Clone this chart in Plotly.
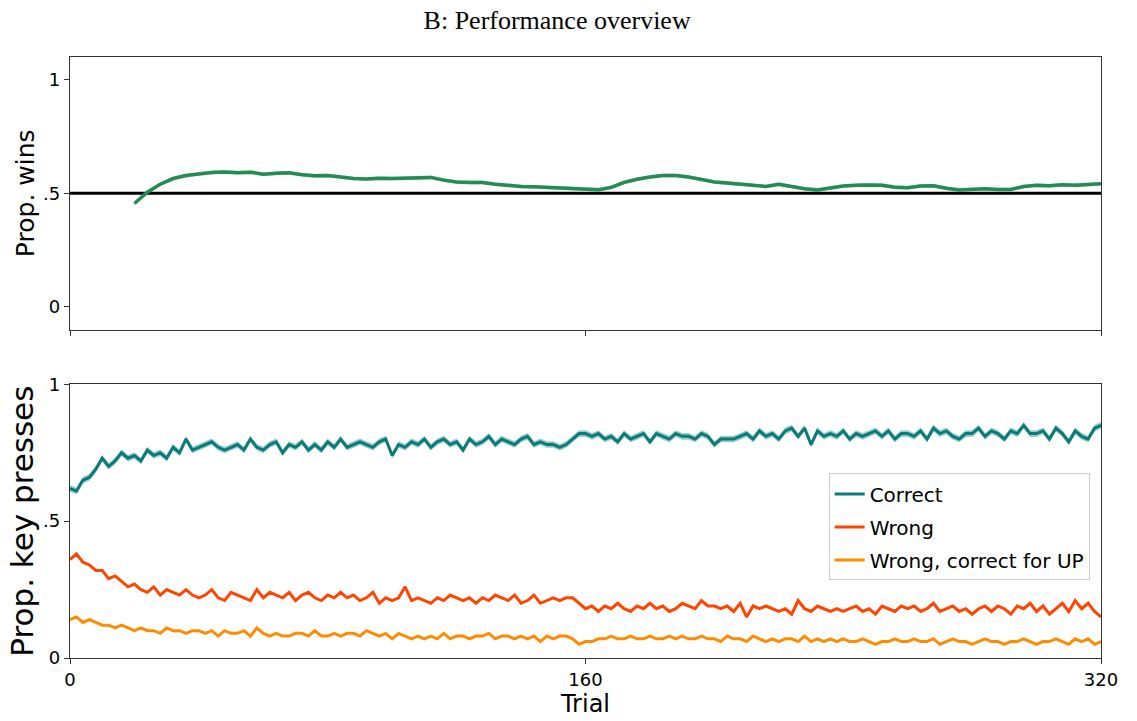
import numpy as np
import plotly.graph_objects as go
from plotly.subplots import make_subplots

# ---------------- data ----------------
win_trials = list(range(20, 321, 4))
win_prop = [0.455, 0.505, 0.540, 0.565, 0.578, 0.586, 0.592, 0.594, 0.591, 0.593,
            0.584, 0.588, 0.590, 0.582, 0.577, 0.578, 0.572, 0.565, 0.563, 0.566,
            0.565, 0.567, 0.566, 0.570, 0.558, 0.550, 0.548, 0.548, 0.540, 0.535,
            0.530, 0.529, 0.527, 0.523, 0.520, 0.518, 0.516, 0.526, 0.548, 0.562,
            0.572, 0.578, 0.578, 0.572, 0.562, 0.550, 0.545, 0.540, 0.538, 0.530,
            0.540, 0.530, 0.520, 0.515, 0.525, 0.532, 0.535, 0.537, 0.535, 0.527,
            0.525, 0.532, 0.533, 0.522, 0.515, 0.518, 0.520, 0.517, 0.517, 0.530,
            0.535, 0.533, 0.538, 0.536, 0.540, 0.542]
win_se = 0.008
chance_level = 0.5

trials = list(range(0, 321, 2))
correct = [0.62, 0.61, 0.65, 0.66, 0.69, 0.73, 0.70, 0.72, 0.75, 0.73,
           0.74, 0.72, 0.76, 0.74, 0.75, 0.73, 0.77, 0.75, 0.80, 0.76,
           0.77, 0.78, 0.79, 0.77, 0.76, 0.77, 0.78, 0.76, 0.80, 0.77,
           0.76, 0.78, 0.79, 0.75, 0.78, 0.77, 0.79, 0.76, 0.78, 0.76,
           0.79, 0.77, 0.80, 0.77, 0.78, 0.79, 0.78, 0.77, 0.79, 0.80,
           0.74, 0.78, 0.77, 0.79, 0.78, 0.80, 0.77, 0.79, 0.80, 0.78,
           0.79, 0.76, 0.80, 0.78, 0.79, 0.81, 0.78, 0.80, 0.79, 0.78,
           0.80, 0.81, 0.78, 0.79, 0.78, 0.78, 0.77, 0.78, 0.80, 0.82,
           0.82, 0.81, 0.82, 0.80, 0.81, 0.79, 0.82, 0.80, 0.81, 0.82,
           0.79, 0.82, 0.81, 0.80, 0.82, 0.81, 0.81, 0.80, 0.82, 0.81,
           0.78, 0.80, 0.80, 0.80, 0.81, 0.82, 0.80, 0.83, 0.81, 0.82,
           0.80, 0.83, 0.84, 0.81, 0.84, 0.78, 0.83, 0.81, 0.82, 0.81,
           0.83, 0.80, 0.82, 0.81, 0.82, 0.83, 0.81, 0.83, 0.80, 0.82,
           0.82, 0.81, 0.83, 0.80, 0.84, 0.82, 0.83, 0.81, 0.80, 0.82,
           0.82, 0.84, 0.81, 0.83, 0.82, 0.80, 0.83, 0.82, 0.85, 0.82,
           0.82, 0.83, 0.80, 0.84, 0.82, 0.79, 0.83, 0.81, 0.80, 0.84,
           0.85]
wrong = [0.36, 0.38, 0.35, 0.34, 0.32, 0.32, 0.29, 0.30, 0.28, 0.26,
         0.27, 0.25, 0.24, 0.26, 0.23, 0.25, 0.24, 0.23, 0.25, 0.23,
         0.22, 0.23, 0.25, 0.22, 0.21, 0.24, 0.23, 0.22, 0.21, 0.25,
         0.22, 0.24, 0.23, 0.22, 0.24, 0.21, 0.23, 0.24, 0.22, 0.21,
         0.23, 0.22, 0.24, 0.22, 0.23, 0.21, 0.22, 0.24, 0.20, 0.22,
         0.21, 0.22, 0.26, 0.21, 0.22, 0.21, 0.20, 0.22, 0.21, 0.23,
         0.22, 0.21, 0.22, 0.20, 0.22, 0.21, 0.23, 0.22, 0.21, 0.23,
         0.20, 0.21, 0.23, 0.20, 0.21, 0.22, 0.21, 0.22, 0.22, 0.20,
         0.18, 0.19, 0.17, 0.19, 0.18, 0.20, 0.18, 0.17, 0.19, 0.18,
         0.20, 0.18, 0.19, 0.17, 0.18, 0.20, 0.19, 0.18, 0.21, 0.19,
         0.19, 0.18, 0.19, 0.17, 0.20, 0.15, 0.19, 0.18, 0.19, 0.18,
         0.17, 0.18, 0.16, 0.21, 0.18, 0.17, 0.19, 0.18, 0.17, 0.18,
         0.17, 0.18, 0.19, 0.17, 0.18, 0.16, 0.19, 0.18, 0.17, 0.19,
         0.18, 0.19, 0.17, 0.18, 0.20, 0.17, 0.18, 0.19, 0.17, 0.18,
         0.16, 0.18, 0.19, 0.17, 0.19, 0.18, 0.16, 0.19, 0.18, 0.20,
         0.17, 0.19, 0.16, 0.18, 0.20, 0.17, 0.21, 0.18, 0.20, 0.17,
         0.15]
wrong_up = [0.14, 0.15, 0.13, 0.14, 0.13, 0.12, 0.12, 0.11, 0.12, 0.11,
            0.10, 0.11, 0.10, 0.10, 0.09, 0.11, 0.10, 0.10, 0.09, 0.10,
            0.10, 0.09, 0.10, 0.08, 0.10, 0.09, 0.09, 0.10, 0.08, 0.11,
            0.09, 0.08, 0.09, 0.08, 0.08, 0.09, 0.09, 0.08, 0.10, 0.08,
            0.08, 0.09, 0.08, 0.09, 0.09, 0.08, 0.10, 0.09, 0.08, 0.09,
            0.07, 0.09, 0.08, 0.07, 0.08, 0.07, 0.08, 0.07, 0.09, 0.07,
            0.08, 0.08, 0.07, 0.08, 0.08, 0.09, 0.07, 0.08, 0.08, 0.07,
            0.08, 0.07, 0.08, 0.06, 0.08, 0.07, 0.08, 0.08, 0.07, 0.05,
            0.06, 0.06, 0.07, 0.07, 0.08, 0.07, 0.07, 0.08, 0.07, 0.07,
            0.08, 0.07, 0.07, 0.08, 0.07, 0.08, 0.07, 0.07, 0.08, 0.07,
            0.07, 0.06, 0.08, 0.07, 0.07, 0.06, 0.08, 0.07, 0.06, 0.07,
            0.06, 0.07, 0.07, 0.06, 0.08, 0.06, 0.07, 0.06, 0.07, 0.06,
            0.07, 0.06, 0.06, 0.07, 0.06, 0.05, 0.06, 0.06, 0.07, 0.06,
            0.06, 0.07, 0.06, 0.06, 0.07, 0.05, 0.06, 0.07, 0.06, 0.06,
            0.05, 0.06, 0.07, 0.06, 0.06, 0.05, 0.06, 0.06, 0.07, 0.06,
            0.05, 0.06, 0.06, 0.07, 0.06, 0.05, 0.07, 0.06, 0.07, 0.05,
            0.06]
correct_se = 0.012

x_ticks = [0, 160, 320]
y_ticks = [0, 0.5, 1]
y_ticklabels = ["0", ".5", "1"]

# ---------------- figure ----------------
fig = make_subplots(rows=2, cols=1, shared_xaxes=False, vertical_spacing=0.09)

def band(x, y, se, color, row):
    y = np.asarray(y)
    fig.add_trace(go.Scatter(x=list(x) + list(x)[::-1],
                             y=list(y + se) + list((y - se)[::-1]),
                             fill="toself", fillcolor=color, line=dict(width=0),
                             hoverinfo="skip", showlegend=False), row=row, col=1)

band(win_trials, win_prop, win_se, "rgba(46,139,87,0.35)", 1)
fig.add_trace(go.Scatter(x=[0, 320], y=[chance_level, chance_level], mode="lines",
                         line=dict(color="black", width=3), showlegend=False), row=1, col=1)
fig.add_trace(go.Scatter(x=win_trials, y=win_prop, mode="lines",
                         line=dict(color="#238c52", width=3.5), showlegend=False), row=1, col=1)

band(trials, correct, correct_se, "rgba(0,128,128,0.4)", 2)
fig.add_trace(go.Scatter(x=trials, y=correct, mode="lines", name="Correct", legendgroup="a",
                         line=dict(color="#0b7b7a", width=3)), row=2, col=1)
fig.add_trace(go.Scatter(x=trials, y=wrong, mode="lines", name="Wrong", legendgroup="b",
                         line=dict(color="#ff4500", width=3)), row=2, col=1)
fig.add_trace(go.Scatter(x=trials, y=wrong_up, mode="lines", name="Wrong, correct for UP",
                         legendgroup="c", line=dict(color="#ff8c00", width=3)), row=2, col=1)

axis_common = dict(showline=True, linecolor="#333", linewidth=1.2, mirror=True,
                   ticks="outside", ticklen=5, tickcolor="#333", showgrid=False,
                   zeroline=False, tickfont=dict(family="DejaVu Sans", size=18, color="black"))

fig.update_xaxes(range=[0, 320], tickvals=x_ticks, **axis_common)
fig.update_xaxes(showticklabels=False, row=1, col=1)
fig.update_xaxes(ticktext=[str(v) for v in x_ticks],
                 title=dict(text="Trial", font=dict(family="DejaVu Sans", size=24, color="black"),
                            standoff=2), row=2, col=1)
fig.update_yaxes(tickvals=y_ticks, ticktext=y_ticklabels, **axis_common)
fig.update_yaxes(range=[-0.1, 1.1], row=1, col=1,
                 title=dict(text="Prop. wins", font=dict(family="DejaVu Sans", size=25, color="black"),
                            standoff=1))
fig.update_yaxes(range=[0, 1], row=2, col=1,
                 title=dict(text="Prop. key presses", font=dict(family="DejaVu Sans", size=31, color="black"),
                            standoff=0))

fig.update_layout(
    width=1137, height=721,
    margin=dict(l=70, r=36, t=57, b=60),
    paper_bgcolor="white", plot_bgcolor="white",
    title=dict(text="B: Performance overview", x=0.49, xanchor="center", y=0.972, yanchor="middle",
               font=dict(family="Liberation Serif", size=26, color="black")),
    legend=dict(x=0.989, xanchor="right", y=0.307, yanchor="top",
                bordercolor="#cccccc", borderwidth=1, bgcolor="rgba(255,255,255,0.9)",
                font=dict(family="DejaVu Sans", size=20, color="black"),
                tracegroupgap=4),
)
fig.layout.yaxis.domain = [0.5464, 1.0]
fig.layout.yaxis2.domain = [0.0, 0.4553]

fig.write_html("out.html")
